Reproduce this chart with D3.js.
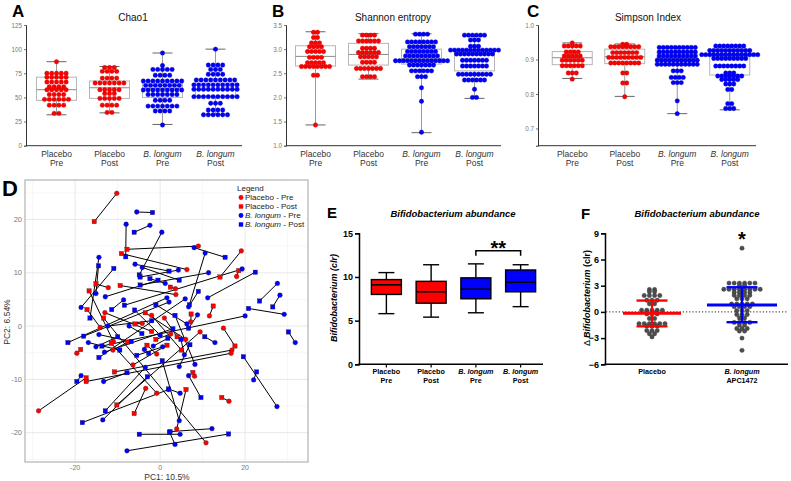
<!DOCTYPE html>
<html><head><meta charset="utf-8">
<script src="https://cdn.jsdelivr.net/npm/d3@7"></script>
<style>body{margin:0;background:#fff}svg{display:block}text{font-family:"Liberation Sans",Arial,sans-serif}</style>
</head><body><svg id="c" width="791" height="481"></svg>
<script>
// ---------- DATA ----------
const abcGroups = ["Placebo Pre","Placebo Post","B. longum Pre","B. longum Post"];
const abcLabels = [["Placebo","Pre"],["Placebo","Post"],["B. longum","Pre"],["B. longum","Post"]];
const groupColors = ["#ff0000","#ff0000","#0000ff","#0000ff"];

// rows: [value, number of dots]
const chao1Dots = [
 [[87,1],[75,5],[71,5],[66,5],[61,4],[58,5],[53,4],[48,6],[42,4],[33.5,2]],
 [[81,3],[77,4],[70,4],[65,7],[58,5],[54,3],[49,5],[42,4],[34.5,2]],
 [[96,1],[83,1],[79,5],[73,4],[67,9],[62.5,8],[57.7,9],[53,7],[47,4],[41,7],[36,4],[21.4,1]],
 [[100,1],[83.5,4],[79,3],[74,4],[68,9],[63,10],[58.4,10],[50.8,10],[44,3],[37,4],[32,6]]
];
const chao1Box = [[32,47,58,71,87],[34,49,60,67,82],[22,50,59,67,96],[32,51,58,69,100]];
const chao1Ticks = [0,25,50,75,100,125];

const shannonDots = [
 [[3.35,2],[3.24,2],[3.13,3],[3.05,4],[2.95,5],[2.83,4],[2.72,5],[2.64,8],[2.46,2],[1.43,1]],
 [[3.29,4],[3.17,6],[3.02,4],[2.93,6],[2.84,5],[2.73,4],[2.6,7],[2.43,4]],
 [[3.31,4],[3.15,8],[3.05,7],[2.95,8],[2.86,9],[2.76,14],[2.67,7],[2.55,6],[2.43,3],[2.2,1],[1.92,1],[1.28,1]],
 [[3.29,6],[3.19,3],[3.06,3],[2.98,13],[2.9,10],[2.77,7],[2.65,7],[2.48,9],[2.36,6],[2.17,1],[2.0,2]]
];
const shannonBox = [[1.43,2.65,2.85,3.07,3.36],[2.38,2.67,2.89,3.12,3.32],[1.27,2.69,2.8,3.0,3.32],[1.98,2.55,2.9,2.98,3.28]];
const shannonTicks = [1.0,1.5,2.0,2.5,3.0,3.5];

const simpsonDots = [
 [[0.948,1],[0.939,5],[0.922,4],[0.91,5],[0.898,6],[0.882,6],[0.861,3],[0.843,1]],
 [[0.944,2],[0.937,8],[0.92,7],[0.906,9],[0.89,8],[0.861,2],[0.832,2],[0.792,1]],
 [[0.935,10],[0.922,10],[0.91,10],[0.898,11],[0.886,11],[0.867,3],[0.848,4],[0.833,3],[0.78,1],[0.743,1]],
 [[0.939,8],[0.926,11],[0.914,15],[0.903,9],[0.881,8],[0.861,3],[0.852,7],[0.842,5],[0.829,3],[0.813,2],[0.772,2],[0.758,3]]
];
const simpsonBox = [[0.845,0.885,0.905,0.923,0.948],[0.793,0.888,0.908,0.93,0.945],[0.743,0.886,0.902,0.922,0.935],[0.754,0.855,0.91,0.926,0.94]];
const simpsonTicks = [0.7,0.8,0.9,1.0];

// PCA pairs: [pre PC1, pre PC2, post PC1, post PC2]
const pcaPlacebo = [
 [-10.2,24.9,-15.5,19.6],[9.0,15.0,-7.8,14.4],[19.1,14.1,14.1,9.2],[18.0,9.3,18.5,10.4],
 [6.3,10.6,-9.1,13.6],[-12.2,7.2,-15.1,7.9],[3.6,7.0,2.4,7.3],[3.7,5.9,-9.4,7.6],
 [-19.6,-5.1,-18.7,-4.4],[-14.1,-0.25,-17.2,3.1],[-11.0,-2.9,-16.7,6.6],[-11.1,-4.5,-7.6,-3.0],
 [-4.2,0.5,-5.9,0.4],[-0.8,-5.25,-3.1,-3.6],[-6.4,-7.3,1.6,-3.6],[-3.4,-11.7,-6.1,-16.4],
 [-0.8,-12.6,-11.5,-3.25],[-28.6,-15.9,-17.4,-9.7],[7.2,0.8,7.3,2.25],[11.6,1.9,12.5,3.75],
 [14.9,-0.4,17.6,-3.75],[16.9,-4.5,-10.75,-8.6],[16.7,-5.1,-17.4,-10.4],[9.4,-1.1,-10.2,-14.8],
 [8.1,-9.4,7.7,-8.7],[16.2,-14.1,14.5,-13.4],[3.9,-19.3,6.1,-11.9],[10.8,-21.9,-13.3,1.5],
 [-13.0,2.5,-2.0,-1.0],[2.5,-1.5,-1.0,-2.5],[1.0,1.5,4.0,-2.0],[-2.0,2.0,5.0,-4.5],[6.0,-2.5,-3.5,2.5]
];
const pcaLongum = [
 [-5.5,21.4,-1.8,21.3],[-2.4,18.9,-6.1,17.6],[-8.0,19.1,-8.1,13.0],[0.4,17.6,-4.9,9.6],
 [8.0,14.7,15.3,12.9],[10.6,13.7,6.9,4.0],[11.2,5.3,22.4,10.1],[-14.4,12.9,-16.5,1.5],
 [-15.1,6.1,-14.5,11.3],[-18.6,3.5,-10.9,10.8],[-5.9,11.6,2.1,10.3],[-4.2,11.0,4.5,8.6],
 [4.3,10.5,-4.7,9.2],[1.2,8.0,-2.4,8.9],[-12.9,5.5,-0.5,8.6],[-8.6,4.9,-11.4,3.1],
 [27.6,8.0,23.4,4.7],[28.2,5.8,26.5,3.6],[29.2,2.2,20.8,3.3],[20.0,1.9,-13.7,-3.75],
 [11.4,10.0,-4.7,7.7],[1.6,5.3,-21.7,-3.1],[2.1,4.5,-18.0,-1.9],[5.9,5.1,-14.4,-5.9],
 [8.8,2.1,6.7,-0.4],[6.7,3.6,9.0,6.5],[19.3,10.7,-8.4,3.9],[-16.9,-3.1,-9.5,-4.5],
 [-12.3,0.0,-2.0,1.0],[-14.4,-1.6,-6.8,-2.9],[-15.1,-3.9,-10.0,-2.0],[-13.1,-4.9,3.0,-0.5],
 [-7.3,0.0,-4.3,-1.4],[-3.7,-4.4,-2.7,-5.1],[-1.6,-3.75,1.8,-2.3],[0.6,-3.9,-5.5,-5.5],
 [0.0,-1.7,-6.0,3.0],[-3.5,-7.75,-12.9,-15.9],[-18.6,-9.3,-19.6,-10.4],[-13.3,-10.4,-7.8,-8.75],
 [2.0,-11.9,-18.3,-18.1],[-13.5,-17.6,-3.0,-9.5],[-7.8,-23.4,16.1,-20.25],[6.3,0.4,-1.0,4.0],
 [31.8,-3.1,30.2,-1.1],[22.0,-10.1,22.7,-8.6],[27.5,-15.1,19.6,-5.75],[12.9,-3.1,10.5,-2.0],
 [5.7,-5.4,4.9,-2.5],[4.5,-7.6,7.0,-3.5],[8.2,-7.2,3.5,2.0],[6.7,-9.3,9.6,-13.4],
 [4.7,-12.6,2.0,-11.8],[4.5,-17.75,0.5,-6.5],[12.2,-19.25,2.35,-19.8],[4.7,-20.3,-4.9,-20.3],
 [3.5,-22.2,2.2,-19.9]
];
const pcaXTicks = [-20,0,20];
const pcaYTicks = [-20,-10,0,10,20];
const legendItems = [["Placebo"," - Pre","#ff0000","circle"],["Placebo"," - Post","#ff0000","square"],["B. longum"," - Pre","#0000ff","circle"],["B. longum"," - Post","#0000ff","square"]];

// E: box plots [min, Q1, median, Q3, max]
const eBox = [[5.8,8.0,9.1,9.7,10.5],[5.4,7.0,8.3,9.5,11.4],[5.9,7.5,8.6,9.9,11.5],[6.6,8.3,9.4,10.8,11.4]];
const eTicks = [0,5,10,15];
const eSigY = 13.0;

// F: delta values rows [value, count]
const fGroups = ["Placebo","B. longum APC1472"];
const fDots = [
 [[2.56,2],[2.3,2],[1.87,4],[1.34,3],[0.92,2],[0.2,5],[0.0,3],[-0.23,3],[-0.76,2],[-1.34,6],[-1.64,3],[-2.14,3],[-2.5,2],[-2.86,1]],
 [[7.3,1],[3.3,6],[3.05,2],[2.6,8],[2.25,4],[1.9,4],[1.5,3],[0.9,5],[0.6,4],[0.15,3],[-0.3,3],[-0.7,2],[-1.2,4],[-1.5,2],[-1.9,3],[-2.2,2],[-3.0,1],[-4.4,1]]
];
const fSummary = [[-0.15,-1.65,1.3],[0.8,-1.18,2.82]]; // mean, lower SD, upper SD
const fTicks = [-6,-3,0,3,6,9];
const fColors = ["#ff0000","#0000ff"];

// ---------- DRAW ----------
const svg = d3.select("#c");
const FONT = '"Liberation Sans",Arial,sans-serif';

function letter(t, x, y, size){
  svg.append("text").attr("x",x).attr("y",y).text(t)
    .attr("font-size",size).attr("font-weight","bold").attr("fill","#000");
}

function catLabel(g, x, y, lines, size, color, weight, lh){
  const t = g.append("text").attr("x",x).attr("y",y).attr("text-anchor","middle")
    .attr("font-size",size).attr("fill",color).attr("font-weight",weight);
  lines.forEach((ln,i)=>{
    t.append("tspan").attr("x",x).attr("dy", i===0?0:lh).text(ln)
      .attr("font-style", ln.startsWith("B. longum")?"italic":"normal");
  });
}

function panelABC(o){
  const g = svg.append("g");
  const y = d3.scaleLinear().domain(o.domain).range([145.7,25]);
  const x = d3.scaleBand().domain(abcGroups).range(o.xr);
  abcGroups.forEach((gr,i)=>{
    const b = o.box[i], cx = x(gr)+x.bandwidth()/2, w = 40, cw = 20;
    g.append("line").attr("x1",cx).attr("x2",cx).attr("y1",y(b[0])).attr("y2",y(b[4])).attr("stroke","#9a9a9a").attr("stroke-width",1);
    g.append("rect").attr("x",cx-w/2).attr("y",y(b[3])).attr("width",w).attr("height",y(b[1])-y(b[3]))
      .attr("fill","#fff").attr("stroke","#b5b5b5").attr("stroke-width",1);
    g.append("line").attr("x1",cx-w/2).attr("x2",cx+w/2).attr("y1",y(b[2])).attr("y2",y(b[2])).attr("stroke","#8a8a8a").attr("stroke-width",1);
    [b[0],b[4]].forEach(v=>g.append("line").attr("x1",cx-cw/2).attr("x2",cx+cw/2).attr("y1",y(v)).attr("y2",y(v)).attr("stroke","#666").attr("stroke-width",1));
  });
  abcGroups.forEach((gr,i)=>{
    const cx = x(gr)+x.bandwidth()/2;
    o.dots[i].forEach(([v,n])=>{
      for(let k=0;k<n;k++){
        g.append("circle").attr("cx",cx+(k-(n-1)/2)*o.sp).attr("cy",y(v)).attr("r",2.2)
          .attr("fill",groupColors[i]).attr("stroke",i<2?"#c00000":"#0000b0").attr("stroke-width",0.4);
      }
    });
  });
  const ay = g.append("g").attr("transform",`translate(${o.ax},0)`)
    .call(d3.axisLeft(y).tickValues(o.ticks).tickFormat(o.fmt).tickSize(2).tickPadding(2));
  ay.select(".domain").attr("stroke","#333");
  ay.selectAll(".tick line").attr("stroke","#777");
  ay.selectAll("text").attr("font-size",6.3).attr("fill","#777").attr("font-family",FONT);
  g.append("line").attr("x1",o.ax).attr("x2",o.xr[1]).attr("y1",145.7).attr("y2",145.7).attr("stroke","#333");
  abcGroups.forEach((gr,i)=>catLabel(g, x(gr)+x.bandwidth()/2, 157, abcLabels[i], 8.5, "#333", "normal", 9));
  g.append("text").attr("x",o.tx).attr("y",20.5).attr("text-anchor","middle").attr("font-size",10).attr("fill","#111").text(o.title);
  letter(o.letter, o.lx, 17, 17);
}

panelABC({dots:chao1Dots, box:chao1Box, ticks:chao1Ticks, fmt:d3.format("d"), domain:[0,125], xr:[30,242], ax:26, sp:4.8, title:"Chao1", tx:133, letter:"A", lx:12});
panelABC({dots:shannonDots, box:shannonBox, ticks:shannonTicks, fmt:d3.format(".1f"), domain:[1,3.5], xr:[289,501], ax:286, sp:4.0, title:"Shannon entropy", tx:393, letter:"B", lx:272});
panelABC({dots:simpsonDots, box:simpsonBox, ticks:simpsonTicks, fmt:d3.format(".1f"), domain:[0.65,1.0], xr:[546,756], ax:538, sp:4.0, title:"Simpson Index", tx:648, letter:"C", lx:527});

// ---------- D: PCA ----------
(function(){
  const g = svg.append("g");
  const L=25,R=308,T=180,B=462;
  const x = d3.scaleLinear().domain([-31.8,34.8]).range([L,R]);
  const y = d3.scaleLinear().domain([-25.5,27.4]).range([B,T]);
  const xMinor = [-30,-10,10,30], yMinor = [-25,-15,-5,5,15,25];
  xMinor.forEach(v=>g.append("line").attr("x1",x(v)).attr("x2",x(v)).attr("y1",T).attr("y2",B).attr("stroke","#f2f2f2").attr("stroke-width",0.6));
  yMinor.forEach(v=>g.append("line").attr("y1",y(v)).attr("y2",y(v)).attr("x1",L).attr("x2",R).attr("stroke","#f2f2f2").attr("stroke-width",0.6));
  pcaXTicks.forEach(v=>g.append("line").attr("x1",x(v)).attr("x2",x(v)).attr("y1",T).attr("y2",B).attr("stroke","#e6e6e6").attr("stroke-width",0.9));
  pcaYTicks.forEach(v=>g.append("line").attr("y1",y(v)).attr("y2",y(v)).attr("x1",L).attr("x2",R).attr("stroke","#e6e6e6").attr("stroke-width",0.9));
  const all = pcaPlacebo.map(d=>({d,c:"#ff0000"})).concat(pcaLongum.map(d=>({d,c:"#0000ff"})));
  all.forEach(({d})=>g.append("line").attr("x1",x(d[0])).attr("y1",y(d[1])).attr("x2",x(d[2])).attr("y2",y(d[3])).attr("stroke","#000").attr("stroke-width",1));
  all.forEach(({d,c})=>{
    g.append("circle").attr("cx",x(d[0])).attr("cy",y(d[1])).attr("r",2.4).attr("fill",c).attr("stroke","#222").attr("stroke-width",0.3);
    g.append("rect").attr("x",x(d[2])-2.2).attr("y",y(d[3])-2.2).attr("width",4.4).attr("height",4.4).attr("fill",c).attr("stroke","#222").attr("stroke-width",0.3);
  });
  g.append("rect").attr("x",L).attr("y",T).attr("width",R-L).attr("height",B-T).attr("fill","none").attr("stroke","#b3b3b3").attr("stroke-width",1.2);
  pcaXTicks.forEach(v=>g.append("text").attr("x",x(v)).attr("y",B+8).attr("text-anchor","middle").attr("font-size",7).attr("fill","#777").text(v));
  pcaYTicks.forEach(v=>g.append("text").attr("x",L-3).attr("y",y(v)+2.6).attr("text-anchor","end").attr("font-size",7.5).attr("fill","#777").text(v));
  g.append("text").attr("x",167).attr("y",480).attr("text-anchor","middle").attr("font-size",8.5).attr("fill","#333").text("PC1: 10.5%");
  g.append("text").attr("transform","translate(10,322) rotate(-90)").attr("text-anchor","middle").attr("font-size",8.5).attr("fill","#333").text("PC2: 6.54%");
  g.append("rect").attr("x",235).attr("y",182).attr("width",72).attr("height",47).attr("fill","#fff");
  g.append("text").attr("x",237).attr("y",191).attr("font-size",8).attr("fill","#222").text("Legend");
  legendItems.forEach((it,i)=>{
    const yy = 197.5 + i*9;
    if(it[3]==="circle") g.append("circle").attr("cx",241).attr("cy",yy).attr("r",2.4).attr("fill",it[2]);
    else g.append("rect").attr("x",238.8).attr("y",yy-2.2).attr("width",4.4).attr("height",4.4).attr("fill",it[2]);
    const t = g.append("text").attr("x",245).attr("y",yy+2.8).attr("font-size",8).attr("fill","#222");
    t.append("tspan").text(it[0]).attr("font-style",it[0].startsWith("B.")?"italic":"normal");
    t.append("tspan").text(it[1]);
  });
  letter("D", 2, 196, 22);
})();

// ---------- E ----------
(function(){
  const g = svg.append("g");
  const y = d3.scaleLinear().domain([0,15]).range([364.3,233.3]);
  const x = d3.scaleBand().domain(abcGroups).range([364,543]);
  abcGroups.forEach((gr,i)=>{
    const b = eBox[i], cx = x(gr)+x.bandwidth()/2, w=30, cw=16;
    g.append("line").attr("x1",cx).attr("x2",cx).attr("y1",y(b[0])).attr("y2",y(b[4])).attr("stroke","#000").attr("stroke-width",1.4);
    [b[0],b[4]].forEach(v=>g.append("line").attr("x1",cx-cw/2).attr("x2",cx+cw/2).attr("y1",y(v)).attr("y2",y(v)).attr("stroke","#000").attr("stroke-width",1.4));
    g.append("rect").attr("x",cx-w/2).attr("y",y(b[3])).attr("width",w).attr("height",y(b[1])-y(b[3]))
      .attr("fill",groupColors[i]).attr("stroke","#000").attr("stroke-width",1.4);
    g.append("line").attr("x1",cx-w/2).attr("x2",cx+w/2).attr("y1",y(b[2])).attr("y2",y(b[2])).attr("stroke","#000").attr("stroke-width",1.6);
  });
  const ay = g.append("g").attr("transform","translate(359,0)").call(d3.axisLeft(y).tickValues(eTicks).tickSize(4).tickPadding(2));
  ay.selectAll("path,line").attr("stroke","#000").attr("stroke-width",1.5);
  ay.selectAll("text").attr("font-size",9).attr("font-weight","bold").attr("fill","#000").attr("font-family",FONT);
  g.append("line").attr("x1",358.3).attr("x2",543).attr("y1",364.3).attr("y2",364.3).attr("stroke","#000").attr("stroke-width",1.5);
  abcGroups.forEach((gr,i)=>{
    const cx = x(gr)+x.bandwidth()/2;
    g.append("line").attr("x1",cx).attr("x2",cx).attr("y1",364.3).attr("y2",367.5).attr("stroke","#000").attr("stroke-width",1.2);
    catLabel(g, cx, 374, abcLabels[i], 7.2, "#000", "bold", 8.5);
  });
  const x3 = x(abcGroups[2])+x.bandwidth()/2, x4 = x(abcGroups[3])+x.bandwidth()/2;
  g.append("path").attr("d",`M${x3},${y(eSigY)+5}V${y(eSigY)}H${x4}V${y(eSigY)+5}`).attr("fill","none").attr("stroke","#000").attr("stroke-width",1.5);
  g.append("text").attr("x",(x3+x4)/2).attr("y",y(eSigY)+4.5).attr("text-anchor","middle").attr("font-size",20).attr("font-weight","bold").text("**");
  const yl = g.append("text").attr("transform","translate(337,298) rotate(-90)").attr("text-anchor","middle").attr("font-size",9).attr("font-weight","bold").attr("fill","#000");
  yl.append("tspan").attr("font-style","italic").text("Bifidobacterium (clr)");
  g.append("text").attr("x",453).attr("y",217).attr("text-anchor","middle").attr("font-size",9.5).attr("font-weight","bold").attr("font-style","italic").text("Bifidobacterium abundance");
  letter("E", 327, 218, 15);
})();

// ---------- F ----------
(function(){
  const g = svg.append("g");
  const y = d3.scaleLinear().domain([-6,9]).range([364.3,233.3]);
  const x = d3.scaleBand().domain(fGroups).range([607,787]);
  g.append("line").attr("x1",606).attr("x2",788).attr("y1",y(0)).attr("y2",y(0)).attr("stroke","#222").attr("stroke-width",1).attr("stroke-dasharray","1.2,2");
  fGroups.forEach((gr,i)=>{
    const cx = x(gr)+x.bandwidth()/2;
    fDots[i].forEach(([v,n])=>{
      for(let k=0;k<n;k++) g.append("circle").attr("cx",cx+(k-(n-1)/2)*5.2).attr("cy",y(v)).attr("r",2.2).attr("fill","#4d4d4d").attr("stroke","#2a2a2a").attr("stroke-width",0.3);
    });
  });
  fGroups.forEach((gr,i)=>{
    const cx = x(gr)+x.bandwidth()/2, s = fSummary[i], mw = i===0?58:70, cw = 31;
    g.append("line").attr("x1",cx).attr("x2",cx).attr("y1",y(s[1])).attr("y2",y(s[2])).attr("stroke",fColors[i]).attr("stroke-width",2.2);
    [s[1],s[2]].forEach(v=>g.append("line").attr("x1",cx-cw/2).attr("x2",cx+cw/2).attr("y1",y(v)).attr("y2",y(v)).attr("stroke",fColors[i]).attr("stroke-width",2.4));
    g.append("line").attr("x1",cx-mw/2).attr("x2",cx+mw/2).attr("y1",y(s[0])).attr("y2",y(s[0])).attr("stroke",fColors[i]).attr("stroke-width",3);
  });
  const ay = g.append("g").attr("transform","translate(605,0)").call(d3.axisLeft(y).tickValues(fTicks).tickSize(4).tickPadding(2));
  ay.selectAll("path,line").attr("stroke","#000").attr("stroke-width",1.5);
  ay.selectAll("text").attr("font-size",9).attr("font-weight","bold").attr("fill","#000").attr("font-family",FONT);
  g.append("line").attr("x1",604.3).attr("x2",788).attr("y1",364.3).attr("y2",364.3).attr("stroke","#000").attr("stroke-width",1.5);
  const c0 = x(fGroups[0])+x.bandwidth()/2, c1 = x(fGroups[1])+x.bandwidth()/2;
  catLabel(g, c0, 374, ["Placebo"], 7.2, "#000", "bold", 8.5);
  catLabel(g, c1, 374, ["B. longum","APC1472"], 7.2, "#000", "bold", 8.5);
  g.append("text").attr("x",c1).attr("y",246).attr("text-anchor","middle").attr("font-size",20).attr("font-weight","bold").text("*");
  const yl = g.append("text").attr("transform","translate(590,298) rotate(-90)").attr("text-anchor","middle").attr("font-size",9).attr("fill","#000");
  yl.append("tspan").text("\u0394 ");
  yl.append("tspan").attr("font-style","italic").attr("font-weight","bold").text("Bifidobacterium");
  yl.append("tspan").attr("font-weight","bold").text(" (clr)");
  g.append("text").attr("x",697).attr("y",217).attr("text-anchor","middle").attr("font-size",9.5).attr("font-weight","bold").attr("font-style","italic").text("Bifidobacterium abundance");
  letter("F", 581, 219, 15);
})();
</script></body></html>
